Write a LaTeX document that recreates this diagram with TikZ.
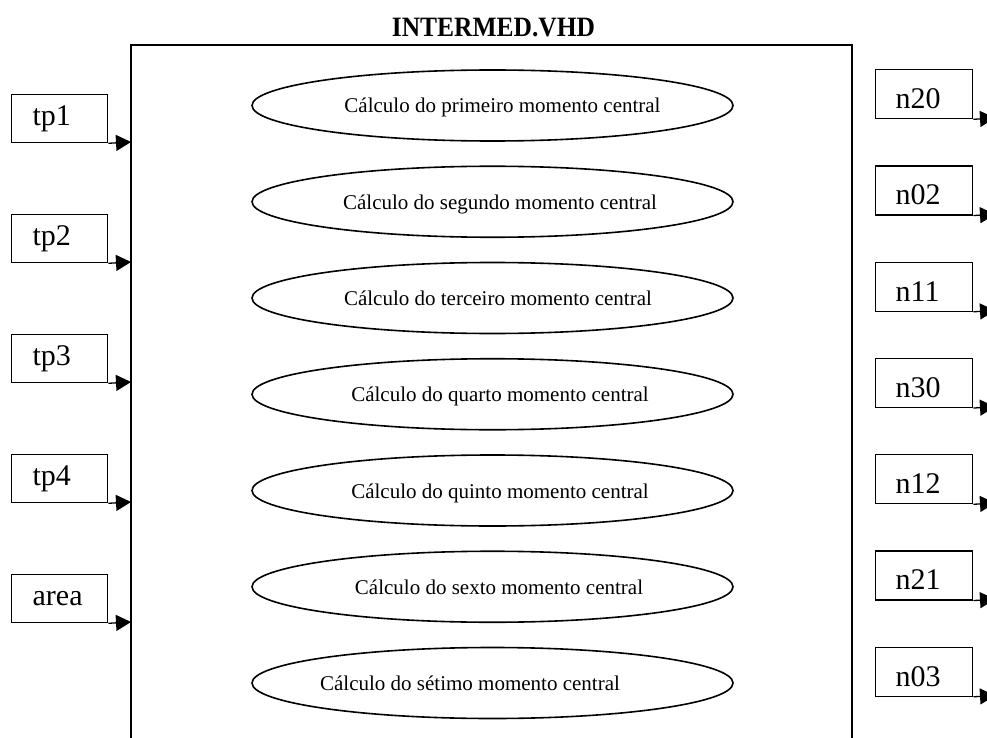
\documentclass[tikz,border=0pt]{standalone}
\usepackage{fontspec}
\setmainfont{Liberation Serif}
\usetikzlibrary{shapes.geometric,arrows.meta}
\newcommand\etxt[2]{\makebox[0pt]{\hspace*{#1}#2}}
\begin{document}
\begin{tikzpicture}[x=1pt,y=-1pt,
  inbox/.style={draw, line width=1.3pt, anchor=north west, inner xsep=21pt, inner ysep=5pt,
    text width=54pt, align=left, text height=26pt, text depth=12pt, font=\fontsize{30}{32}\selectfont},
  outbox/.style={draw, line width=1.3pt, anchor=north west, inner xsep=20pt, inner ysep=5pt,
    text width=57pt, align=left, text height=34pt, text depth=5pt, font=\fontsize{30}{32}\selectfont},
  calc/.style={draw, ellipse, line width=1.6pt, minimum width=481pt, minimum height=71pt,
    inner sep=0pt, text height=16pt, text depth=1pt, font=\fontsize{21}{24}\selectfont},
  arr/.style={line width=1.3pt, -{Triangle[length=15pt,width=16pt]}},
  frame/.style={line width=1.8pt}
]
\useasboundingbox (0,0) rectangle (987,738);
\clip (0,0) rectangle (987,738);

% title
\node[font=\bfseries\fontsize{28}{30}\selectfont, anchor=base, inner sep=0pt] (title) at (493.5,37) {\scalebox{0.91}[1]{INTERMED.VHD}};

% main frame (open at the bottom edge of the picture)
\draw[frame] (131,745) -- (131,45) -- (852,45) -- (852,745);

% inner processes
\node[calc] (c1) at (492.5,105.5) {\etxt{20pt}{Cálculo do primeiro momento central}};
\node[calc] (c2) at (492.5,201.75) {\etxt{15pt}{Cálculo do segundo momento central}};
\node[calc] (c3) at (492.5,298) {\etxt{11pt}{Cálculo do terceiro momento central}};
\node[calc] (c4) at (492.5,394.25) {\etxt{15pt}{Cálculo do quarto momento central}};
\node[calc] (c5) at (492.5,490.5) {\etxt{15pt}{Cálculo do quinto momento central}};
\node[calc] (c6) at (492.5,586.75) {\etxt{13pt}{Cálculo do sexto momento central}};
\node[calc] (c7) at (492.5,683) {\etxt{-45pt}{Cálculo do sétimo momento central}};

% inputs
\node[inbox] (tp1) at (11,94) {tp1};
\node[inbox] (tp2) at (11,214) {tp2};
\node[inbox] (tp3) at (11,334) {tp3};
\node[inbox] (tp4) at (11,454) {tp4};
\node[inbox] (area) at (11,574) {area};

\coordinate (i1) at (131,142);
\coordinate (i2) at (131,262);
\coordinate (i3) at (131,382);
\coordinate (i4) at (131,502);
\coordinate (i5) at (131,622);

\draw[arr] (tp1.south east) -- (i1);
\draw[arr] (tp2.south east) -- (i2);
\draw[arr] (tp3.south east) -- (i3);
\draw[arr] (tp4.south east) -- (i4);
\draw[arr] (area.south east) -- (i5);

% outputs
\node[outbox] (n20) at (875,69) {n20};
\node[outbox] (n02) at (875,165.25) {n02};
\node[outbox] (n11) at (875,261.5) {n11};
\node[outbox] (n30) at (875,357.75) {n30};
\node[outbox] (n12) at (875,454) {n12};
\node[outbox] (n21) at (875,550.25) {n21};
\node[outbox] (n03) at (875,646.5) {n03};

\coordinate (o1) at (995,118);
\coordinate (o2) at (995,214.25);
\coordinate (o3) at (995,310.5);
\coordinate (o4) at (995,406.75);
\coordinate (o5) at (995,503);
\coordinate (o6) at (995,599.25);
\coordinate (o7) at (995,695.5);

\draw[arr] (n20.south east) -- (o1);
\draw[arr] (n02.south east) -- (o2);
\draw[arr] (n11.south east) -- (o3);
\draw[arr] (n30.south east) -- (o4);
\draw[arr] (n12.south east) -- (o5);
\draw[arr] (n21.south east) -- (o6);
\draw[arr] (n03.south east) -- (o7);
\end{tikzpicture}
\end{document}
